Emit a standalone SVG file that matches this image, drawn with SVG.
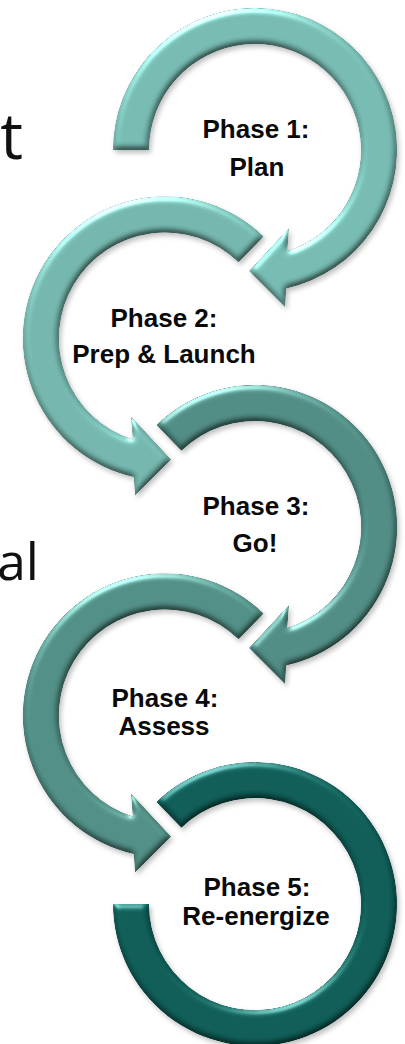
<svg xmlns="http://www.w3.org/2000/svg" xmlns:xlink="http://www.w3.org/1999/xlink" width="405" height="1044" viewBox="0 0 405 1044">
  <style>
    .lbl { font-family: "Liberation Sans", Arial, sans-serif; font-weight: bold; font-size: 26px; fill: #0a0a0a; text-anchor: middle; }
    .side { font-family: "Open Sans", "Liberation Sans", sans-serif; fill: #111111; text-anchor: end; }
    .c1 { fill: #75b9b0; }
    .c2 { fill: #73b5ac; }
    .c3 { fill: #4f8b83; }
    .c4 { fill: #508d84; }
    .c5 { fill: #0f5c56; }
  </style>
  <defs>
    <!-- soft bevel plus a faint drop shadow for the ring arrows -->
    <filter id="bevel" x="-10%" y="-10%" width="125%" height="125%" color-interpolation-filters="sRGB">
      <feGaussianBlur in="SourceAlpha" stdDeviation="3" result="bump"/>
      <feDiffuseLighting in="bump" surfaceScale="3" diffuseConstant="1" lighting-color="#ffffff" result="diff">
        <feDistantLight azimuth="250" elevation="60"/>
      </feDiffuseLighting>
      <feComposite in="SourceGraphic" in2="diff" operator="arithmetic" k1="1.155" k2="0" k3="0" k4="0" result="shaded"/>
      <feComposite in="shaded" in2="SourceAlpha" operator="in" result="shadedIn"/>
      <feSpecularLighting in="bump" surfaceScale="3" specularConstant="0.6" specularExponent="25" lighting-color="#ffffff" result="spec">
        <feDistantLight azimuth="250" elevation="30"/>
      </feSpecularLighting>
      <feComposite in="spec" in2="SourceAlpha" operator="in" result="specIn"/>
      <feComposite in="specIn" in2="shadedIn" operator="arithmetic" k1="0" k2="0.7" k3="1" k4="0" result="lit"/>
      <feGaussianBlur in="SourceAlpha" stdDeviation="2.5" result="sb"/>
      <feOffset in="sb" dx="2" dy="3" result="so"/>
      <feFlood flood-color="#000000" flood-opacity="0.25"/>
      <feComposite in2="so" operator="in" result="shadow"/>
      <feMerge>
        <feMergeNode in="shadow"/>
        <feMergeNode in="lit"/>
      </feMerge>
    </filter>

    <!-- ring arrow starting at the left side, arrowhead near the bottom (centre at 0,0) -->
    <path id="arrowA" d="M -142 0 A 142 142 0 1 1 31.2 138.5 L 30 157 L -6 121 L 34 78 L 32.2 101 A 106 106 0 1 0 -106 0 Z"/>
    <!-- ring arrow starting at the upper left, arrowhead near the bottom -->
    <path id="arrowB" d="M -98.6 -102.1 A 142 142 0 1 1 31.2 138.5 L 30 157 L -6 121 L 34 78 L 32.2 101 A 106 106 0 1 0 -73.6 -76.2 Z"/>
    <!-- open ring without an arrowhead -->
    <path id="ringC" d="M -98.6 -102.1 A 142 142 0 1 1 -142 0 L -106 0 A 106 106 0 1 0 -73.6 -76.2 Z"/>
  </defs>

  <rect width="405" height="1044" fill="#ffffff"/>

  <!-- text running off the left edge -->
  <text class="side" x="23" y="159" font-size="64">t</text>
  <text class="side" x="39" y="580" font-size="52">al</text>

  <g id="phase1">
    <g filter="url(#bevel)"><use xlink:href="#arrowA" class="c1" transform="translate(255,150)"/></g>
    <text class="lbl" x="256" y="138">Phase 1:</text>
    <text class="lbl" x="257" y="176">Plan</text>
  </g>

  <g id="phase2">
    <g filter="url(#bevel)"><use xlink:href="#arrowB" class="c2" transform="translate(165,338.5) scale(-1,1)"/></g>
    <text class="lbl" x="164" y="327">Phase 2:</text>
    <text class="lbl" x="164" y="363">Prep &amp; Launch</text>
  </g>

  <g id="phase3">
    <g filter="url(#bevel)"><use xlink:href="#arrowB" class="c3" transform="translate(255,527)"/></g>
    <text class="lbl" x="256" y="515">Phase 3:</text>
    <text class="lbl" x="255" y="552">Go!</text>
  </g>

  <g id="phase4">
    <g filter="url(#bevel)"><use xlink:href="#arrowB" class="c4" transform="translate(165,715.5) scale(-1,1)"/></g>
    <text class="lbl" x="165" y="707">Phase 4:</text>
    <text class="lbl" x="164" y="735">Assess</text>
  </g>

  <g id="phase5">
    <g filter="url(#bevel)"><use xlink:href="#ringC" class="c5" transform="translate(255,904)"/></g>
    <text class="lbl" x="257" y="896">Phase 5:</text>
    <text class="lbl" x="256" y="925">Re-energize</text>
  </g>
</svg>
